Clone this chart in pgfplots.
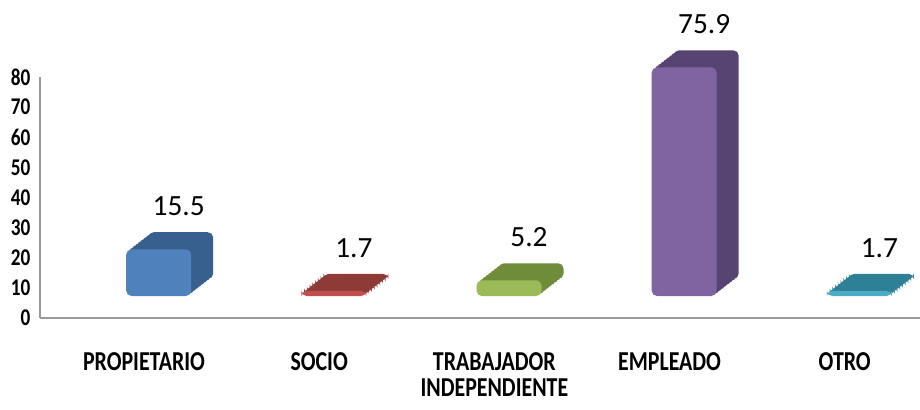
\documentclass[border=0pt]{standalone}
\usepackage{fontspec}
\setmainfont{Carlito}
\newfontfamily\catfont{Carlito}[FakeStretch=0.8]
\usepackage{pgfplots}
\pgfplotsset{compat=1.18}

\definecolor{cBlue}{HTML}{4F81BD}\definecolor{cBlueD}{HTML}{37608F}
\definecolor{cRed}{HTML}{C0504D}\definecolor{cRedD}{HTML}{8E3A37}
\definecolor{cGreen}{HTML}{9BBB59}\definecolor{cGreenD}{HTML}{6F8C3A}
\definecolor{cPurple}{HTML}{8064A2}\definecolor{cPurpleD}{HTML}{584472}
\definecolor{cTeal}{HTML}{4BACC6}\definecolor{cTealD}{HTML}{2E8096}

% front face plus an extruded darker depth (pseudo 3D block)
\pgfplotsset{
  block/.style 2 args={fill=#1, draw=none, rounded corners=4pt,
    preaction={fill=#2, transform canvas={shift={(16.5pt,12.8pt)}}},
    preaction={fill=#2, transform canvas={shift={(14.4pt,11.2pt)}}},
    preaction={fill=#2, transform canvas={shift={(12.4pt,9.6pt)}}},
    preaction={fill=#2, transform canvas={shift={(10.3pt,8.0pt)}}},
    preaction={fill=#2, transform canvas={shift={(8.2pt,6.4pt)}}},
    preaction={fill=#2, transform canvas={shift={(6.2pt,4.8pt)}}},
    preaction={fill=#2, transform canvas={shift={(4.1pt,3.2pt)}}},
    preaction={fill=#2, transform canvas={shift={(2.1pt,1.6pt)}}},
    nodes near coords, point meta=explicit symbolic,
    visualization depends on={rawy \as \rawy}},
}

\begin{document}
\begin{tikzpicture}
\useasboundingbox (-30pt,-69pt) rectangle (660pt,238.5pt);
\begin{axis}[
    scale only axis,
    width=660pt, height=180.75pt,
    ymin=0, ymax=80, ytick={0,10,...,80},
    xmin=-0.594, xmax=4.43,
    xtick={0,1,2,3,4},
    xticklabels={PROPIETARIO,SOCIO,{TRABAJADOR\\INDEPENDIENTE},EMPLEADO,OTRO},
    axis lines*=left,
    axis line style={draw=black!40, line width=0.9pt},
    major tick length=0pt,
    clip=false,
    ybar stacked, bar width=48.75pt, bar shift=11pt,
    yticklabel style={font=\catfont\bfseries\fontsize{18}{18}\selectfont,
        /pgf/number format/assume math mode=true, inner sep=0pt, xshift=-7pt},
    xticklabel style={font=\catfont\bfseries\fontsize{20.5}{19.5}\selectfont,
        align=center, anchor=north, inner sep=0pt, yshift=-26pt},
    % stacked labels sit mid-segment: lift them by half the bar (1 unit = 2.2594pt)
    every node near coord/.append style={font=\fontsize{22}{22}\selectfont,
        inner sep=0pt, anchor=south, xshift=15pt, yshift={25pt+\rawy*1.1297pt}},
]
% floor offset of the 3D view (bars float above the axis)
\addplot[fill=none, draw=none] coordinates {(0,7.3) (1,7.3) (2,7.3) (3,7.3) (4,7.3)};
\addplot[block={cBlue}{cBlueD}] coordinates {(0,15.5) [15.5] (1,0) [] (2,0) [] (3,0) [] (4,0) []};
\addplot[block={cRed}{cRedD}] coordinates {(0,0) [] (1,1.7) [1.7] (2,0) [] (3,0) [] (4,0) []};
\addplot[block={cGreen}{cGreenD}] coordinates {(0,0) [] (1,0) [] (2,5.2) [5.2] (3,0) [] (4,0) []};
\addplot[block={cPurple}{cPurpleD}] coordinates {(0,0) [] (1,0) [] (2,0) [] (3,75.9) [75.9] (4,0) []};
\addplot[block={cTeal}{cTealD}] coordinates {(0,0) [] (1,0) [] (2,0) [] (3,0) [] (4,1.7) [1.7]};
\end{axis}
\end{tikzpicture}
\end{document}
